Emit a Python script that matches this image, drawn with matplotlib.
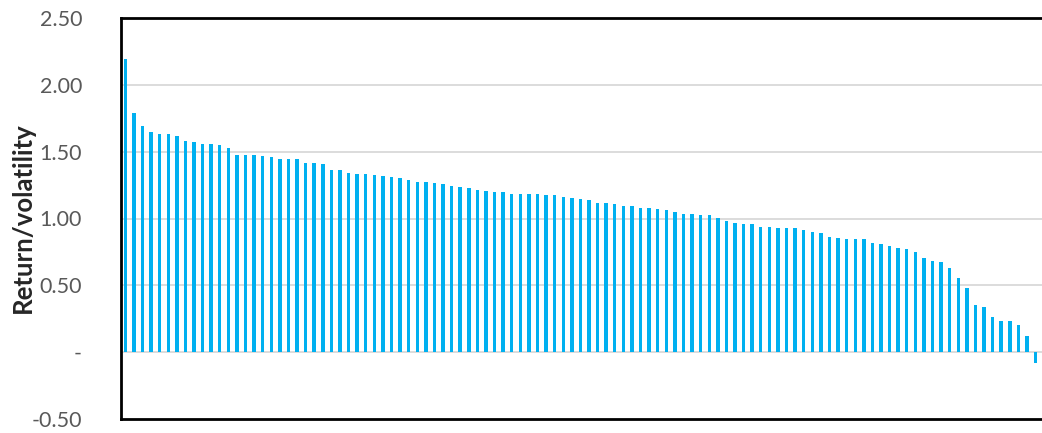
import matplotlib
matplotlib.use("Agg")
import matplotlib.pyplot as plt
import numpy as np

# return/volatility ratios, sorted descending
ratios = [
    2.19, 1.79, 1.69, 1.65, 1.635, 1.63, 1.615, 1.58, 1.575, 1.56,
    1.56, 1.55, 1.53, 1.475, 1.475, 1.473, 1.468, 1.46, 1.448, 1.445,
    1.445, 1.418, 1.415, 1.408, 1.366, 1.363, 1.341, 1.336, 1.333, 1.326,
    1.316, 1.313, 1.301, 1.291, 1.276, 1.273, 1.268, 1.261, 1.246, 1.238,
    1.229, 1.216, 1.206, 1.201, 1.199, 1.186, 1.186, 1.186, 1.184, 1.179,
    1.173, 1.161, 1.154, 1.149, 1.141, 1.114, 1.114, 1.109, 1.096, 1.094,
    1.081, 1.079, 1.072, 1.061, 1.046, 1.037, 1.034, 1.024, 1.024, 1.007,
    0.979, 0.97, 0.96, 0.957, 0.94, 0.934, 0.93, 0.93, 0.927, 0.915,
    0.90, 0.89, 0.862, 0.857, 0.85, 0.847, 0.845, 0.818, 0.81, 0.795,
    0.78, 0.77, 0.747, 0.706, 0.68, 0.676, 0.631, 0.553, 0.478, 0.354,
    0.339, 0.265, 0.235, 0.232, 0.205, 0.123, -0.082,
]
y_ticks = [-0.5, 0.0, 0.5, 1.0, 1.5, 2.0, 2.5]
y_labels = ["-0.50", "-", "0.50", "1.00", "1.50", "2.00", "2.50"]

W, H = 1042, 433
fig = plt.figure(figsize=(W / 100, H / 100), dpi=100)
ax = fig.add_axes([121 / W, 14 / H, (W - 121) / W, 401 / H])

x = np.arange(len(ratios))
ax.bar(x, ratios, width=0.4, color="#00B0F0", zorder=3)

ax.set_xlim(-0.5, 106.75)
ax.set_ylim(-0.5, 2.5)
ax.set_xticks([])
ax.set_yticks(y_ticks)
ax.set_yticklabels(y_labels, fontsize=15.5, color="#595959", family="Lato")
ax.tick_params(axis="y", length=0, pad=28)

for g in [0.0, 0.5, 1.0, 1.5, 2.0]:
    ax.axhline(g, color="#D9D9D9", lw=1.3, zorder=1)

for side in ["left", "top", "bottom"]:
    ax.spines[side].set_color("black")
    ax.spines[side].set_linewidth(2)
ax.spines["right"].set_visible(False)

fig.text(23 / W, 1 - 218 / H, "Return/volatility", rotation=90,
         ha="center", va="center", fontsize=18.5, fontweight="bold",
         color="#262626", family="Lato")

fig.savefig("out.png", dpi=100)
